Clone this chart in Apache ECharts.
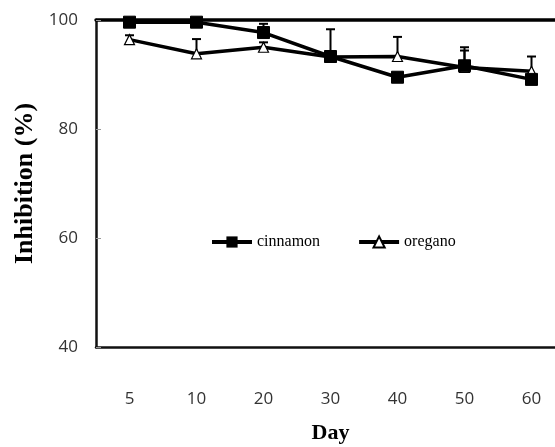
<!DOCTYPE html>
<html>
<head>
<meta charset="utf-8">
<script src="https://cdn.jsdelivr.net/npm/echarts@6/dist/echarts.min.js"></script>
<style>
  html, body { margin: 0; padding: 0; background: #fff; }
  #chart { width: 555px; height: 447px; }
</style>
</head>
<body>
<div id="chart"></div>
<script>
const days = ["5", "10", "20", "30", "40", "50", "60"];
const cinnamon = [99.6, 99.6, 97.7, 93.3, 89.5, 91.6, 89.1];
const cinnamonErr = [0.3, 0.3, 1.6, 5.0, 0.8, 3.4, 0.8];
const oregano = [96.4, 93.8, 95.0, 93.2, 93.3, 91.3, 90.6];
const oreganoErr = [0.8, 2.7, 0.9, 0.8, 3.6, 3.1, 2.7];
const yTicks = [40, 60, 80, 100];

const serif = "'Liberation Serif', 'DejaVu Serif', serif";
const tickFont = "'Open Sans', sans-serif";

// upper-only error bars, Excel style
function errorSeries(vals, errs) {
  return {
    type: "custom",
    silent: true,
    z: 1,
    data: vals.map((v, i) => [i, v, v + errs[i]]),
    renderItem(params, api) {
      const lo = api.coord([api.value(0), api.value(1)]);
      const hi = api.coord([api.value(0), api.value(2)]);
      const style = { stroke: "#000", lineWidth: 2 };
      return {
        type: "group",
        children: [
          { type: "line", shape: { x1: lo[0], y1: lo[1], x2: hi[0], y2: hi[1] }, style },
          { type: "line", shape: { x1: hi[0] - 4.5, y1: hi[1], x2: hi[0] + 4.5, y2: hi[1] }, style },
        ],
      };
    },
  };
}

const chart = echarts.init(document.getElementById("chart"));
chart.setOption({
  animation: false,
  grid: { left: 96, top: 20, right: -10, bottom: 100, outerBoundsMode: "none", containLabel: false },
  legend: {
    left: 205,
    top: 229,
    itemWidth: 40,
    itemHeight: 14,
    itemGap: 37,
    lineStyle: { width: 4 },
    textStyle: { fontFamily: serif, fontSize: 16, color: "#000" },
    data: ["cinnamon", "oregano"],
  },
  xAxis: [
    {
      type: "category",
      data: days,
      name: "Day",
      nameLocation: "middle",
      nameGap: 75,
      nameTextStyle: { fontFamily: serif, fontWeight: "bold", fontSize: 22, color: "#000" },
      axisLine: { lineStyle: { color: "#111", width: 2.5 } },
      axisTick: { show: false },
      axisLabel: { margin: 44, fontFamily: tickFont, fontSize: 17, color: "#333" },
    },
    {
      type: "category",
      data: days,
      position: "top",
      axisLine: { lineStyle: { color: "#000", width: 3.5 } },
      axisTick: { show: false },
      axisLabel: { show: false },
    },
  ],
  yAxis: {
    type: "value",
    min: yTicks[0],
    max: yTicks[yTicks.length - 1],
    interval: 20,
    name: "Inhibition (%)",
    nameLocation: "middle",
    nameGap: 58,
    nameTextStyle: { fontFamily: serif, fontWeight: "bold", fontSize: 26, color: "#000" },
    axisLine: { show: true, lineStyle: { color: "#111", width: 2.5 } },
    axisTick: { show: true, inside: true, length: 5, lineStyle: { color: "#999" } },
    axisLabel: { margin: 18, fontFamily: tickFont, fontSize: 17, color: "#333" },
    splitLine: { show: false },
  },
  series: [
    errorSeries(cinnamon, cinnamonErr),
    errorSeries(oregano, oreganoErr),
    {
      name: "oregano",
      type: "line",
      data: oregano,
      z: 3,
      symbol: "triangle",
      symbolSize: 10,
      lineStyle: { color: "#000", width: 3.5 },
      itemStyle: { color: "#fff", borderColor: "#000", borderWidth: 1.2 },
    },
    {
      name: "cinnamon",
      type: "line",
      data: cinnamon,
      z: 4,
      symbol: "rect",
      symbolSize: 12,
      lineStyle: { color: "#000", width: 3.5 },
      itemStyle: { color: "#000", borderColor: "#000" },
    },
  ],
});
</script>
</body>
</html>
